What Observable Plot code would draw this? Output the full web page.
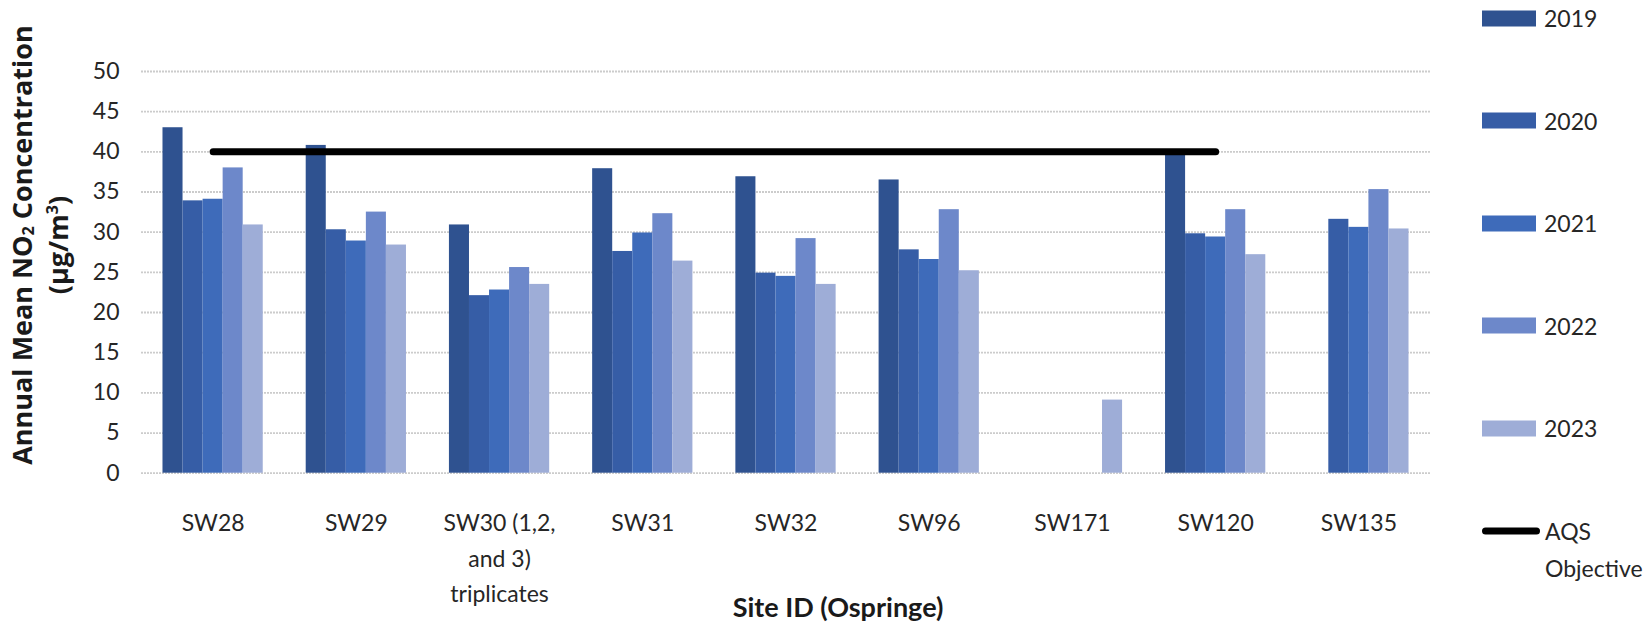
<!DOCTYPE html>
<html>
<head>
<meta charset="utf-8">
<script src="https://cdn.jsdelivr.net/npm/d3@7"></script>
<script src="https://cdn.jsdelivr.net/npm/@observablehq/plot@0.6"></script>
<style>
  html, body { margin: 0; padding: 0; background: #fff; }
  #wrap { position: relative; width: 1645px; height: 626px; overflow: hidden;
          font-family: Lato, "Liberation Sans", sans-serif; color: #262626; }
  .ytitle { position: absolute; transform: translate(-50%, -50%) rotate(-90deg); white-space: nowrap;
            font-family: "Open Sans", sans-serif; font-weight: bold; font-size: 27px; color: #1a1a1a; line-height: 1; }
  .xtitle { position: absolute; transform: translate(-50%, -50%); white-space: nowrap;
            font-weight: bold; font-size: 27px; color: #1a1a1a; }
  .legend-item { position: absolute; left: 1482px; display: flex; align-items: center; font-size: 23px; line-height: 1; }
  .swatch { width: 54px; height: 16px; margin-right: 8px; }
  .lline { width: 58px; height: 7px; border-radius: 4px; background: #000; margin-right: 5px; }
  .legend-note { position: absolute; left: 1545px; font-size: 23px; line-height: 1; transform: translateY(-50%); }
</style>
</head>
<body>
<div id="wrap"></div>
<script>
// Monitoring sites (Ospringe) and the annual mean NO2 concentration per year, µg/m³
const sites = ["SW28", "SW29", "SW30 (1,2, and 3) triplicates", "SW31", "SW32", "SW96", "SW171", "SW120", "SW135"];
const siteLabels = ["SW28", "SW29", "SW30 (1,2,\nand 3)\ntriplicates", "SW31", "SW32", "SW96", "SW171", "SW120", "SW135"];
const years = ["2019", "2020", "2021", "2022", "2023"];
const no2_2019 = [43.0, 40.8, 30.9, 37.9, 36.9, 36.5, null, 39.6, null];
const no2_2020 = [33.9, 30.3, 22.1, 27.6, 24.9, 27.8, null, 29.8, 31.6];
const no2_2021 = [34.1, 28.9, 22.8, 29.9, 24.5, 26.6, null, 29.4, 30.6];
const no2_2022 = [38.0, 32.5, 25.6, 32.3, 29.2, 32.8, null, 32.8, 35.3];
const no2_2023 = [30.9, 28.4, 23.5, 26.4, 23.5, 25.2, 9.1, 27.2, 30.4];
const yearColors = ["#2F5290", "#365DA6", "#3E6BBA", "#6D88CA", "#9EADD7"];
const yTicks = [0, 5, 10, 15, 20, 25, 30, 35, 40, 45, 50];

// Air Quality Strategy objective, drawn from the first site to SW120
const AQS_OBJECTIVE = 40;
const AQS_FROM = "SW28";
const AQS_TO = "SW120";

// Layout
const W = 1645, H = 626;
const M = {top: 71, right: 215, bottom: 153.3, left: 141};
const step = (W - M.left - M.right) / sites.length;   // one band per site
const groupPad = 0.15 * step;                          // space either side of a group
const barW = (step - 2 * groupPad) / years.length;     // five adjacent bars per group

const series = [no2_2019, no2_2020, no2_2021, no2_2022, no2_2023];
const labelOf = new Map(sites.map((s, i) => [s, siteLabels[i]]));

const barMarks = series.map((vals, j) => {
  const data = vals.map((v, i) => ({site: sites[i], value: v})).filter((d) => d.value != null);
  return Plot.barY(data, {
    x: "site", y: "value", fill: yearColors[j],
    insetLeft: groupPad + j * barW,
    insetRight: step - groupPad - (j + 1) * barW
  });
});

const chart = Plot.plot({
  width: W,
  height: H,
  marginTop: M.top,
  marginBottom: M.bottom,
  marginLeft: M.left,
  marginRight: M.right,
  style: {fontFamily: 'Lato, "Liberation Sans", sans-serif', fontSize: "23px", color: "#262626", background: "transparent"},
  x: {domain: sites, padding: 0, round: false, axis: null},
  y: {domain: [0, 50], axis: null},
  marks: [
    Plot.gridY(yTicks, {stroke: "#cccccc", strokeOpacity: 1, strokeWidth: 1.8, strokeDasharray: "2,1"}),
    ...barMarks,
    Plot.axisY(yTicks, {tickSize: 0, tickPadding: 22, label: null, fontSize: 23}),
    Plot.axisX({tickSize: 0, tickPadding: 33, label: null, lineHeight: 1.54,
                tickFormat: (s) => labelOf.get(s), fontSize: 23}),
    Plot.lineY([{site: AQS_FROM, v: AQS_OBJECTIVE}, {site: AQS_TO, v: AQS_OBJECTIVE}], {
      x: "site", y: "v", stroke: "black", strokeWidth: 7, strokeLinecap: "round"
    })
  ]
});

const wrap = document.getElementById("wrap");
wrap.appendChild(chart);

// Axis titles
const y1 = document.createElement("div");
y1.className = "ytitle";
y1.style.left = "22px"; y1.style.top = "245px";
y1.innerHTML = "Annual Mean NO<sub style='font-size:0.6em;vertical-align:-0.15em'>2</sub> Concentration";
wrap.appendChild(y1);
const y2 = document.createElement("div");
y2.className = "ytitle";
y2.style.left = "57px"; y2.style.top = "245px";
y2.innerHTML = "(µg/m<sup style='font-size:0.6em;vertical-align:0.6em'>3</sup>)";
wrap.appendChild(y2);
const xt = document.createElement("div");
xt.className = "xtitle";
xt.style.left = "838px"; xt.style.top = "606px";
xt.textContent = "Site ID (Ospringe)";
wrap.appendChild(xt);

// Legend: one swatch per year, then the objective line
years.forEach((yr, j) => {
  const item = document.createElement("div");
  item.className = "legend-item";
  item.style.top = (18 + j * 102.5) + "px";
  item.style.transform = "translateY(-50%)";
  const sw = document.createElement("div");
  sw.className = "swatch";
  sw.style.background = yearColors[j];
  const tx = document.createElement("span");
  tx.textContent = yr;
  item.appendChild(sw); item.appendChild(tx);
  wrap.appendChild(item);
});
const aqsItem = document.createElement("div");
aqsItem.className = "legend-item";
aqsItem.style.top = "531px";
aqsItem.style.transform = "translateY(-50%)";
const ll = document.createElement("div");
ll.className = "lline";
const lt = document.createElement("span");
lt.textContent = "AQS";
aqsItem.appendChild(ll); aqsItem.appendChild(lt);
wrap.appendChild(aqsItem);
const obj = document.createElement("div");
obj.className = "legend-note";
obj.style.top = "568px";
obj.textContent = "Objective";
wrap.appendChild(obj);
</script>
</body>
</html>
